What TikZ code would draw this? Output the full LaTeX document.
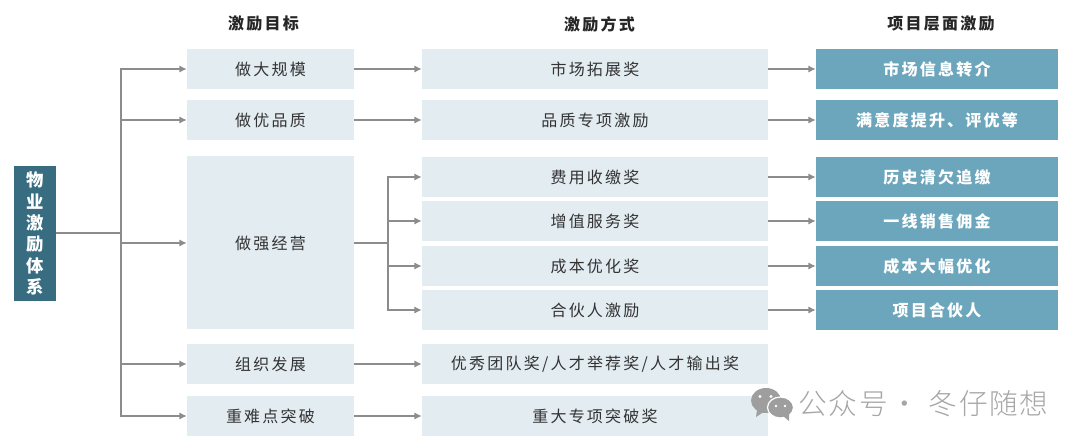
\documentclass[tikz,border=0pt]{standalone}
\usepackage{fontspec}
\usetikzlibrary{arrows.meta}
\setmainfont{Noto Sans CJK SC}[LetterSpace=14]
\newfontfamily\markfont{Noto Sans CJK SC Light}[LetterSpace=6]
\definecolor{rootblue}{HTML}{386D81}
\definecolor{tealblue}{HTML}{6CA6BC}
\definecolor{paleblue}{HTML}{E2ECF1}
\definecolor{linegray}{HTML}{8C8C8C}
\begin{document}
\begin{tikzpicture}[x=0.75pt,y=0.75pt,yscale=-1,
  head/.style={font=\fontsize{12pt}{14pt}\selectfont\bfseries,text=black!85,inner sep=0.75pt},
  goalbox/.style={fill=paleblue,minimum width=125.25pt,font=\fontsize{12pt}{14pt}\selectfont,text=black!80,inner sep=0pt},
  waybox/.style={fill=paleblue,minimum width=259.5pt,font=\fontsize{12pt}{14pt}\selectfont,text=black!80,inner sep=0pt},
  levelbox/.style={fill=tealblue,minimum width=181.5pt,font=\fontsize{12pt}{14pt}\selectfont\bfseries,text=white,inner sep=0pt},
  link/.style={draw=linegray,line width=1.3pt},
  arrowlink/.style={link,-{Latex[length=5.5pt,width=5.5pt]}},
  ]
\useasboundingbox (0,0) rectangle (1080,448);

\draw (263.5,24) node (headA) [head] {激励目标};
\draw (599.5,24) node (headB) [head] {激励方式};
\draw (941,24) node (headC) [head] {项目层面激励};

\draw (35,233.5) node (root) [fill=rootblue,minimum width=31.5pt,minimum height=101.25pt,inner sep=0pt,text=white,align=center,font=\fontsize{13pt}{16pt}\selectfont\bfseries] {物\\业\\激\\励\\体\\系};

\draw (270.5,69) node (goalA) [goalbox,minimum height=30pt] {做大规模};
\draw (270.5,120) node (goalB) [goalbox,minimum height=30pt] {做优品质};
\draw (270.5,243) node (goalC) [goalbox,minimum height=129.75pt] {做强经营};
\draw (270.5,364) node (goalD) [goalbox,minimum height=30pt] {组织发展};
\draw (270.5,416) node (goalE) [goalbox,minimum height=30pt] {重难点突破};

\draw (595,69) node (wayA) [waybox,minimum height=30pt] {市场拓展奖};
\draw (595,120) node (wayB) [waybox,minimum height=30pt] {品质专项激励};
\draw (595,177) node (wayC) [waybox,minimum height=30pt] {费用收缴奖};
\draw (595,221) node (wayD) [waybox,minimum height=30pt] {增值服务奖};
\draw (595,266) node (wayE) [waybox,minimum height=30pt] {成本优化奖};
\draw (595,310) node (wayF) [waybox,minimum height=30pt] {合伙人激励};
\draw (595,364) node (wayG) [waybox,minimum height=30pt] {优秀团队奖/人才举荐奖/人才输出奖};
\draw (595,416) node (wayH) [waybox,minimum height=30pt] {重大专项突破奖};

\draw (937,69) node (levelA) [levelbox,minimum height=30pt] {市场信息转介};
\draw (937,120) node (levelB) [levelbox,minimum height=30pt] {满意度提升、评优等};
\draw (937,177) node (levelC) [levelbox,minimum height=30pt] {历史清欠追缴};
\draw (937,221) node (levelD) [levelbox,minimum height=30pt] {一线销售佣金};
\draw (937,266) node (levelE) [levelbox,minimum height=30pt] {成本大幅优化};
\draw (937,310) node (levelF) [levelbox,minimum height=30pt] {项目合伙人};

\coordinate (trunk) at (121,233);
\coordinate (fork) at (388,243);

\draw [link] (root.east |- trunk) -- (trunk);
\draw [arrowlink] (trunk) |- (goalA.west);
\draw [arrowlink] (trunk) |- (goalB.west);
\draw [arrowlink] (trunk) |- (goalC.west);
\draw [arrowlink] (trunk) |- (goalD.west);
\draw [arrowlink] (trunk) |- (goalE.west);

\draw [arrowlink] (goalA) -- (wayA);
\draw [arrowlink] (goalB) -- (wayB);
\draw [arrowlink] (goalD) -- (wayG);
\draw [arrowlink] (goalE) -- (wayH);

\draw [link] (goalC.east) -- (fork);
\draw [arrowlink] (fork) |- (wayC.west);
\draw [arrowlink] (fork) |- (wayD.west);
\draw [arrowlink] (fork) |- (wayE.west);
\draw [arrowlink] (fork) |- (wayF.west);

\draw [arrowlink] (wayA) -- (levelA);
\draw [arrowlink] (wayB) -- (levelB);
\draw [arrowlink] (wayC) -- (levelC);
\draw [arrowlink] (wayD) -- (levelD);
\draw [arrowlink] (wayE) -- (levelE);
\draw [arrowlink] (wayF) -- (levelF);

% watermark
\fill [black!38] (766,400.5) ellipse [x radius=15,y radius=12.5];
\fill [black!38] (757,410) -- (756,417) -- (765,411) -- cycle;
\draw [fill=black!38,draw=white,line width=0.9pt] (780.5,407.5) ellipse [x radius=13,y radius=10.5];
\fill [black!38] (783,416) -- (789,421) -- (789,413) -- cycle;
\fill [white] (760,396.5) circle (1.7) (771,396.5) circle (1.7) (776,406) circle (1.4) (785,406) circle (1.4);
\draw (923.5,404) node (mark) [inner sep=0.75pt,text=black!35,font=\fontsize{21.5pt}{24pt}\markfont] {公众号\hspace{2pt}·\hspace{7pt}冬仔随想};
\end{tikzpicture}
\end{document}
